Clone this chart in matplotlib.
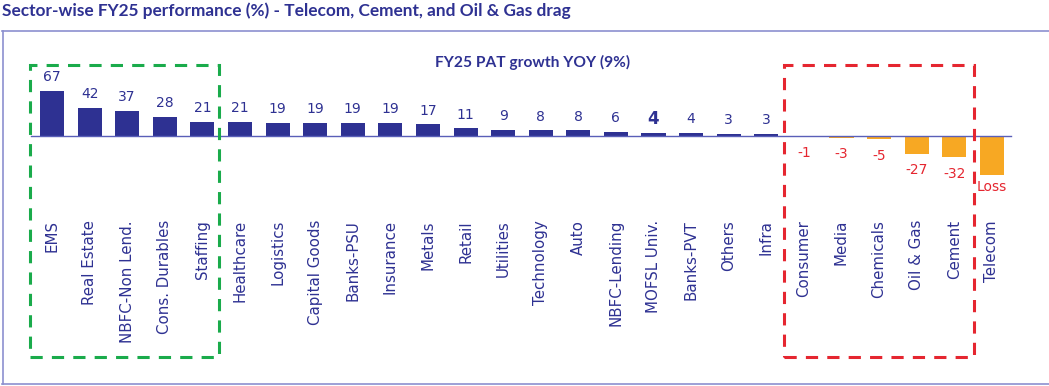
import matplotlib.pyplot as plt
from matplotlib.patches import Rectangle
from matplotlib.lines import Line2D

body_font = ['DejaVu Sans']
head_font = ['Lato', 'DejaVu Sans']

# sector data (FY25 PAT growth YoY, %)
sectors = ['EMS', 'Real Estate', 'NBFC-Non Lend.', 'Cons. Durables', 'Staffing',
           'Healthcare', 'Logistics', 'Capital Goods', 'Banks-PSU', 'Insurance',
           'Metals', 'Retail', 'Utilities', 'Technology', 'Auto', 'NBFC-Lending',
           'MOFSL Univ.', 'Banks-PVT', 'Others', 'Infra', 'Consumer', 'Media',
           'Chemicals', 'Oil & Gas', 'Cement', 'Telecom']
growth = [67, 42, 37, 28, 21, 21, 19, 19, 19, 19, 17, 11, 9, 8, 8, 6, 4, 4, 3, 3,
          -1, -3, -5, -27, -32, -59]
labels = ['67', '42', '37', '28', '21', '21', '19', '19', '19', '19', '17', '11',
          '9', '8', '8', '6', '4', '4', '3', '3', '-1', '-3', '-5', '-27', '-32', 'Loss']

navy = '#2e3192'
orange = '#f7a823'
red = '#e52630'
green = '#1aab4b'
frame = '#8c90cf'

fig = plt.figure(figsize=(10.49, 3.86), dpi=100)
ax = fig.add_axes([0, 0, 1, 1])
ax.set_xlim(-1.383, 26.52)
ax.set_ylim(-376.4, 204.1)
for s in ax.spines.values():
    s.set_visible(False)
ax.set_yticks([])

x = list(range(len(sectors)))
colors = [navy if v >= 0 else orange for v in growth]
ax.bar(x, growth, width=0.64, color=colors, zorder=2)
ax.plot([-0.55, 25.5], [0, 0], color='#5a5fb8', lw=1.0, zorder=3)

# value labels
for i, (v, lab) in enumerate(zip(growth, labels)):
    if v >= 0:
        bold = lab == '4' and sectors[i] == 'MOFSL Univ.'
        ax.annotate(lab, (i, v), xytext=(0, 10), textcoords='offset points',
                    ha='center', va='center', color=navy, fontfamily=body_font,
                    fontsize=12 if bold else 10,
                    fontweight='bold' if bold else 'normal')
    else:
        off = -9 if lab == 'Loss' else -12
        ax.annotate(lab, (i, v), xytext=(0, off), textcoords='offset points',
                    ha='center', va='center', color=red, fontsize=10,
                    fontfamily=body_font)

ax.set_xticks(x)
ax.set_xticklabels(sectors, rotation=90, color=navy, fontsize=10.8,
                   fontfamily=body_font)
ax.tick_params(axis='x', length=0, pad=-119.5)
for t in ax.get_xticklabels():
    t.set_va('top')

# highlight boxes
ax.add_patch(Rectangle((-0.585, -333), 0.585 + 4.44, 106 + 333, fill=False,
                       ec=green, lw=2.2, ls=(0, (4, 3)), zorder=4, clip_on=False))
ax.add_patch(Rectangle((20 - 0.53, -333), 4 + 0.53 + 0.52, 106 + 333, fill=False,
                       ec=red, lw=2.2, ls=(0, (4, 3)), zorder=4, clip_on=False))

ax.text(0.508, 0.838, 'FY25 PAT growth YOY (9%)', transform=ax.transAxes,
        ha='center', va='center', fontsize=11.2, fontweight='bold', color=navy,
        fontfamily=head_font)

# frame and title
fig.add_artist(Line2D([0.002, 1], [1 - 30.5 / 386] * 2, color=frame, lw=1.2))
fig.add_artist(Line2D([0.002, 1], [1 - 384 / 386] * 2, color=frame, lw=1.2))
fig.add_artist(Line2D([0.003, 0.003], [1 - 30.5 / 386, 1 - 384 / 386], color=frame, lw=1.2))
fig.text(0.002, 1 - 11 / 386, 'Sector-wise FY25 performance (%) - Telecom, Cement, and Oil & Gas drag',
         ha='left', va='center', fontsize=12.4, fontweight='bold', color=navy,
         fontfamily=head_font)

fig.savefig('out.png', dpi=100)
